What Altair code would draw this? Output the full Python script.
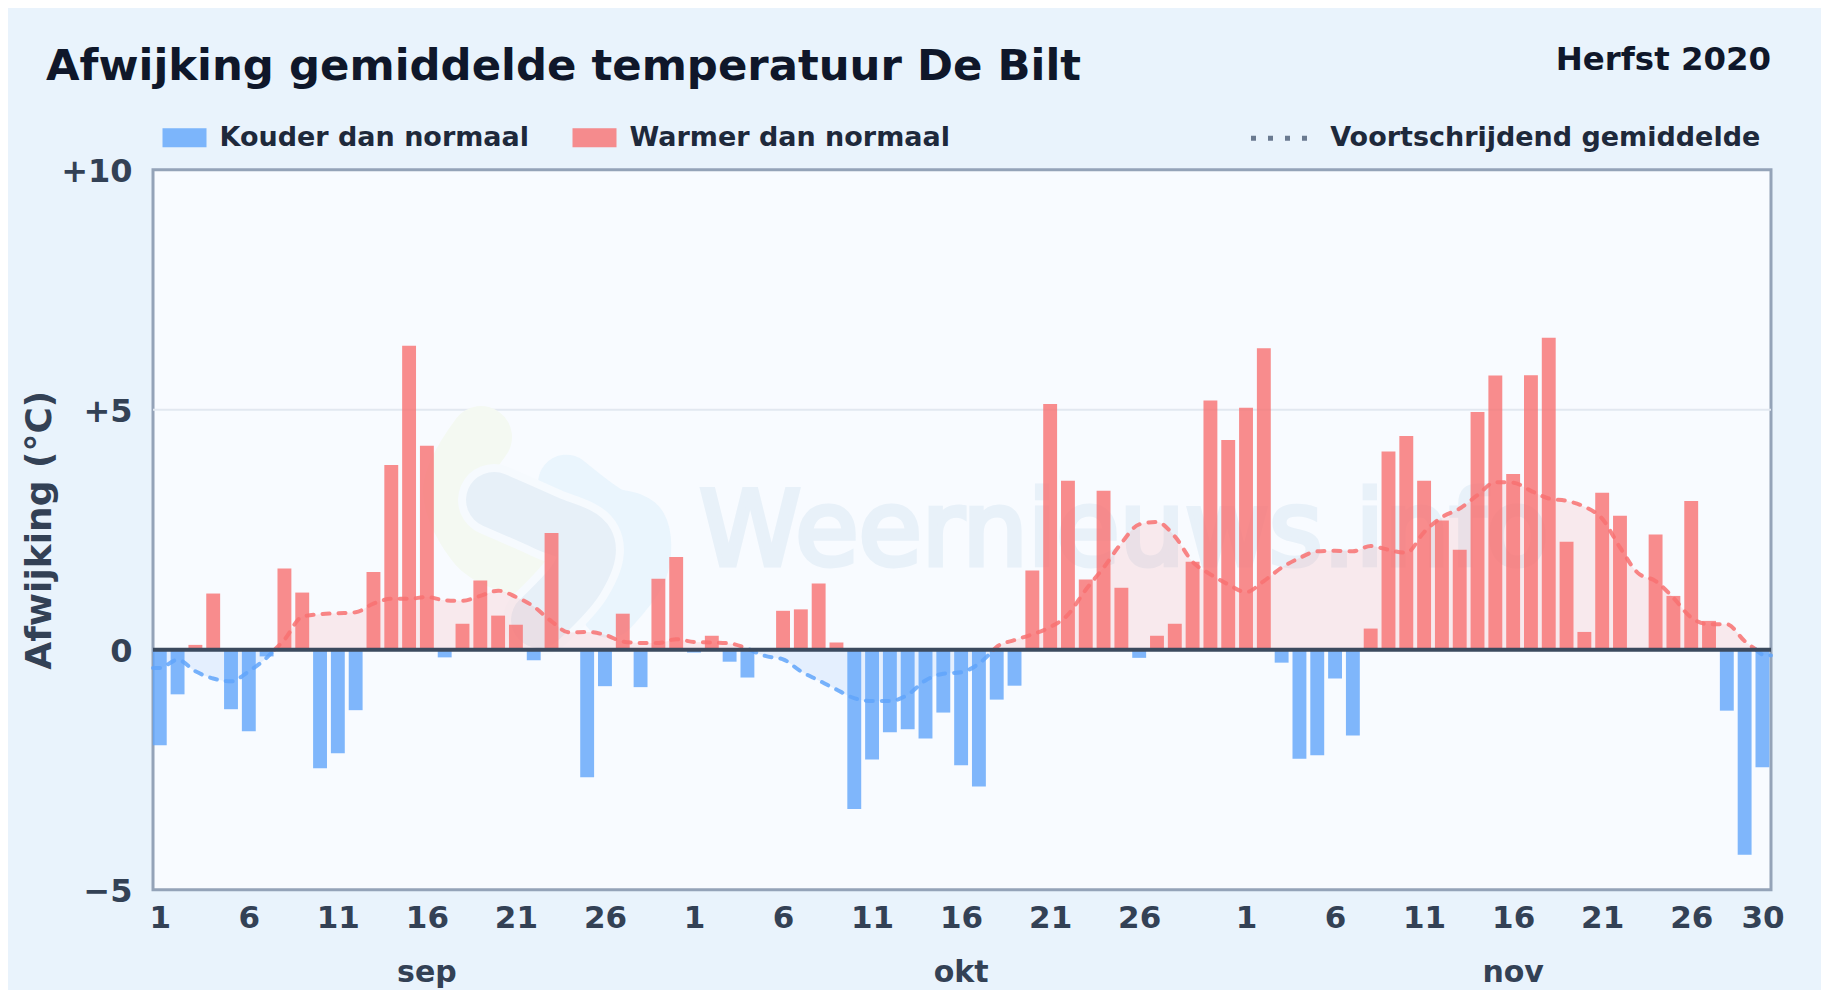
import altair as alt
import pandas as pd

# ---------- values ----------
sep = [-1.99,-0.93,0.10,1.17,-1.24,-1.70,-0.14,1.69,1.19,-2.47,-2.16,-1.26,1.62,3.85,6.33,4.25,-0.16,0.54,1.44,0.71,
       0.52,-0.22,2.43,0.02,-2.66,-0.76,0.75,-0.78,1.48,1.93]
okt = [-0.06,0.29,-0.25,-0.58,0.0,0.81,0.84,1.38,0.15,-3.32,-2.29,-1.72,-1.66,-1.85,-1.31,-2.41,-2.85,-1.04,-0.75,1.65,
       5.12,3.52,1.46,3.31,1.29,-0.17,0.29,0.54,1.83,5.19,4.37]
nov = [5.04,6.28,-0.27,-2.27,-2.20,-0.60,-1.79,0.44,4.13,4.45,3.52,2.69,2.08,4.95,5.71,3.66,5.72,6.50,2.25,0.37,
       3.27,2.79,0.0,2.40,1.12,3.10,0.60,-1.27,-4.27,-2.45]
ma_sep = [-0.38,-0.21,-0.45,-0.60,-0.66,-0.45,-0.17,0.21,0.69,0.74,0.76,0.78,0.96,1.06,1.06,1.10,1.03,1.02,1.12,1.23,
          1.10,0.90,0.59,0.36,0.37,0.31,0.17,0.14,0.14,0.22]
ma_okt = [0.16,0.15,0.13,0.02,-0.13,-0.20,-0.45,-0.64,-0.83,-1.01,-1.07,-1.07,-0.94,-0.64,-0.50,-0.47,-0.29,0.06,0.20,0.32,
          0.47,0.73,1.25,1.71,2.22,2.61,2.66,2.36,1.83,1.57,1.36]
ma_nov = [1.20,1.43,1.71,1.91,2.05,2.06,2.05,2.16,2.08,2.02,2.45,2.76,2.94,3.22,3.49,3.48,3.31,3.15,3.10,2.98,
          2.73,2.13,1.60,1.43,1.08,0.67,0.53,0.53,0.18,-0.10]
ma_start, ma_end = -0.38, -0.12      # line runs on to the frame at both ends

tick_days = [1,6,11,16,21,26, 31,36,41,46,51,56, 62,67,72,77,82,87,91]
y_ticks = [-5,0,5,10]
y_grid = [5]
months = ["sep","okt","nov"]
month_days = [16,46,77]
names = ["Kouder dan normaal","Warmer dan normaal"]
ma_name = "Voortschrijdend gemiddelde"

# watermark shapes (day, deviation)
green_x, green_y = [19.04,17.53,18.93,21.18], [4.43,3.33,2.19,1.77]
light_x, light_y = [23.82,26.07,27.93,27.93,26.24], [3.48,2.85,2.56,1.66,0.83]
grey_x, grey_y = [19.77,22.70,24.95,24.38,22.30], [3.12,2.64,2.23,1.46,0.62]

# ---------- tables ----------
vals = sep + okt + nov
HALF = 0.39
DMIN, DMAX = 0.62, 91.48
bars = pd.DataFrame({
    "x0": [i+1-HALF for i in range(len(vals))],
    "x1": [i+1+HALF for i in range(len(vals))],
    "v": vals,
    "kind": [names[1] if v >= 0 else names[0] for v in vals],
})

ma_vals = [ma_start] + ma_sep + ma_okt + ma_nov + [ma_end]
ma_days = [DMIN] + [i+1 for i in range(91)] + [DMAX]
rows, seg = [], 0
for i, (d, v) in enumerate(zip(ma_days, ma_vals)):
    if i and (ma_vals[i-1] < 0) != (v < 0):
        d0, v0 = ma_days[i-1], ma_vals[i-1]
        xc = d0 + (d-d0)*(-v0)/(v-v0)
        rows.append((xc, 0.0, seg, bool(v0 >= 0)))
        seg += 1
        rows.append((xc, 0.0, seg, bool(v >= 0)))
    rows.append((d, v, seg, bool(v >= 0)))
ma = pd.DataFrame(rows, columns=["d","v","seg","pos"])
ma["z"] = 0.0

x_scale = alt.Scale(domain=[DMIN,DMAX], nice=False, zero=False)
x_axis = alt.Axis(values=tick_days, grid=False, domain=False, ticks=False, title=None,
                  labelExpr="datum.value <= 30 ? datum.value : datum.value <= 61 ? datum.value-30 : datum.value-61",
                  labelOverlap=False, labelFlush=False, labelFont="DejaVu Sans", labelFontWeight="bold",
                  labelFontSize=31, labelColor="#334155", labelPadding=14)
y_scale = alt.Scale(domain=[-5,10], nice=False, zero=False)
y_axis = alt.Axis(values=y_ticks, grid=False, domain=False, ticks=False,
                  title="Afwijking (°C)", titleFont="DejaVu Sans", titleFontWeight="bold", titleFontSize=36,
                  titleColor="#334155", titleX=-114, titleY=360, titleAngle=270, titleAlign="center",
                  titleBaseline="middle",
                  labelExpr="datum.value > 0 ? '+' + datum.value : datum.value < 0 ? '\u2212' + abs(datum.value) : '0'",
                  labelFont="DejaVu Sans", labelFontWeight="bold", labelFontSize=32,
                  labelColor="#334155", labelPadding=21, labelOffset=1.5)

def fx(field="d"):
    return alt.X(f"{field}:Q", scale=x_scale, axis=x_axis)

def fy(field="v"):
    return alt.Y(f"{field}:Q", scale=y_scale, axis=y_axis)

def blob(xs, ys, color, w):
    df = pd.DataFrame({"d": xs, "v": ys, "o": list(range(len(xs)))})
    return alt.Chart(df).mark_line(color=color, strokeWidth=w, interpolate="cardinal",
                                   strokeCap="round", strokeJoin="round").encode(
        x=fx(), y=fy(), order="o:Q")

layers = [
    alt.Chart(pd.DataFrame({"v": y_grid})).mark_rule(color="#e2e8f0", strokeWidth=2).encode(y=fy()),
    blob(green_x, green_y, "#f4f9f2", 62),
    blob(light_x, light_y, "#eaf5fd", 56),
    blob(grey_x, grey_y, "#f6fafe", 72),
    blob(grey_x, grey_y, "#e7f0f8", 56),
    alt.Chart(pd.DataFrame({"d":[31.3],"v":[1.76],"t":["Weernieuws.info"]})).mark_text(
        font="DejaVu Sans", fontSize=103, color="#e8f1f9", stroke="#e8f1f9", strokeWidth=5,
        align="left", baseline="alphabetic"
    ).encode(x=fx(), y=fy(), text="t:N"),
]

for flag, col in [(True,"#f87171"),(False,"#60a5fa")]:
    sub = ma[ma.pos == flag]
    layers.append(alt.Chart(sub).mark_area(color=col, opacity=0.13, interpolate="monotone").encode(
        x=fx(), y=fy(), y2="z:Q", detail="seg:N"))

layers.append(alt.Chart(bars).mark_bar(opacity=0.8).encode(
    x=fx("x0"), x2="x1:Q",
    y=fy(), y2=alt.datum(0),
    fill=alt.Fill("kind:N", scale=alt.Scale(domain=names, range=["#60a5fa","#f87171"]),
                  legend=alt.Legend(orient="none", legendX=9.5, legendY=-54, direction="horizontal", columns=2,
                                    title=None, symbolType="M-1,-0.43H1V0.43H-1Z", symbolSize=1936,
                                    symbolStrokeWidth=0, symbolOpacity=0.8, columnPadding=43, labelOffset=13,
                                    labelFont="DejaVu Sans", labelFontWeight="bold", labelFontSize=27,
                                    labelColor="#1e293b", labelLimit=500))))

for flag, col in [(True,"#f87171"),(False,"#60a5fa")]:
    sub = ma[ma.pos == flag]
    layers.append(alt.Chart(sub).mark_line(color=col, strokeWidth=4, strokeDash=[7,9], strokeCap="round",
                                           interpolate="monotone", opacity=0.85).encode(
        x=fx(), y=fy(), detail="seg:N", order="d:Q"))

layers.append(alt.Chart(pd.DataFrame({"v":[0]})).mark_rule(color="#3b4a5e", strokeWidth=4).encode(y=fy()))

# legend entry of the moving average (a single point draws no line)
layers.append(alt.Chart(pd.DataFrame({"d":[1.0],"v":[0.0],"n":[ma_name]})).mark_line(strokeWidth=5, strokeDash=[5,12]).encode(
    x=fx(), y=fy(),
    stroke=alt.Stroke("n:N", scale=alt.Scale(domain=[ma_name], range=["#64748b"]),
                      legend=alt.Legend(orient="none", legendX=1095.5, legendY=-62, title=None, symbolType="stroke",
                                        symbolSize=3136, symbolStrokeWidth=5, symbolDash=[5,12], labelOffset=20.7,
                                        symbolOpacity=0.95,
                                        labelFont="DejaVu Sans", labelFontWeight="bold", labelFontSize=27,
                                        labelColor="#1e293b", labelLimit=700))))

layers.append(alt.Chart(pd.DataFrame({"d":month_days,"t":months})).mark_text(
    font="DejaVu Sans", fontWeight="bold", fontSize=30, color="#334155", baseline="alphabetic", align="center"
).encode(x=fx(), y=alt.value(812), text="t:N"))

layers.append(alt.Chart(pd.DataFrame({"t":["Herfst 2020"]})).mark_text(
    font="DejaVu Sans", fontWeight="bold", fontSize=32.4, color="#0f172a", baseline="alphabetic", align="right"
).encode(x=alt.value(1618), y=alt.value(-100), text="t:N"))

layers.append(alt.Chart(pd.DataFrame({"t":["Afwijking gemiddelde temperatuur De Bilt"]})).mark_text(
    font="DejaVu Sans", fontWeight="bold", fontSize=43.4, color="#0f172a", baseline="alphabetic", align="left"
).encode(x=alt.value(-107), y=alt.value(-90), text="t:N"))

chart = alt.layer(*layers).properties(
    width=1618, height=720,
    background="#e9f3fc",
    padding={"left":145,"top":161.7,"right":50,"bottom":100},
    autosize=alt.AutoSizeParams(type="none"),
).configure_view(fill="#f8fbff", stroke="#94a3b8", strokeWidth=3)

chart.save("out.html", embed_options={"renderer": "svg", "actions": False})
